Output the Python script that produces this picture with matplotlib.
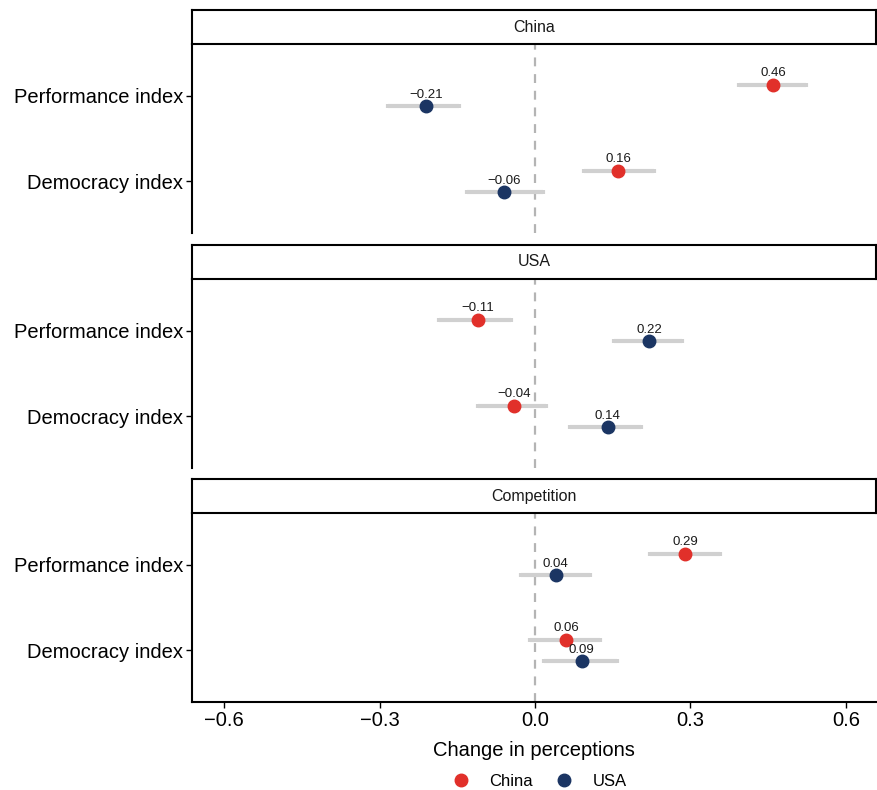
import matplotlib
matplotlib.use("Agg")
import matplotlib.pyplot as plt
from matplotlib.lines import Line2D

plt.rcParams['font.family'] = ['Liberation Sans', 'DejaVu Sans']

panels = ["China", "USA", "Competition"]
outcomes = ["Performance index", "Democracy index"]
groups = ["China", "USA"]
colors = {"China": "#E1302A", "USA": "#1B3563"}

# estimates[panel][group] = [Performance, Democracy]
estimates = {
    "China": {"China": [0.46, 0.16], "USA": [-0.21, -0.06]},
    "USA": {"China": [-0.11, -0.04], "USA": [0.22, 0.14]},
    "Competition": {"China": [0.29, 0.06], "USA": [0.04, 0.09]},
}
lower = {
    "China": {"China": [0.394, 0.095], "USA": [-0.284, -0.131]},
    "USA": {"China": [-0.185, -0.110], "USA": [0.153, 0.068]},
    "Competition": {"China": [0.222, -0.010], "USA": [-0.027, 0.017]},
}
upper = {
    "China": {"China": [0.523, 0.230], "USA": [-0.147, 0.015]},
    "USA": {"China": [-0.046, 0.021], "USA": [0.284, 0.205]},
    "Competition": {"China": [0.357, 0.125], "USA": [0.106, 0.158]},
}
xticks = [-0.6, -0.3, 0.0, 0.3, 0.6]

W, H = 878, 790
fig = plt.figure(figsize=(W / 100, H / 100), dpi=100)

left_px, right_px = 192, 876
panel_tops = [44, 279, 513]
panel_h = 189
strip_h = 34
ypos = {"Performance index": 2, "Democracy index": 1}
dodge = {"China": 0.125, "USA": -0.125}

def fx(px):
    return px / W

def fy(py):
    return 1 - py / H

for i, panel in enumerate(panels):
    top = panel_tops[i]
    ax = fig.add_axes([fx(left_px), fy(top + panel_h), fx(right_px - left_px), panel_h / H])
    ax.set_xlim(-0.662, 0.658)
    ax.set_ylim(0.4, 2.6)
    ax.axvline(0, color="#B4B4B4", lw=1.6, ls=(0, (4, 3.5)), zorder=1)
    for g in groups:
        for j, o in enumerate(outcomes):
            y = ypos[o] + dodge[g]
            est = estimates[panel][g][j]
            lo = lower[panel][g][j]
            hi = upper[panel][g][j]
            eb = ax.errorbar([est], [y], xerr=[[est - lo], [hi - est]], fmt='none',
                             ecolor="#D0D0D0", elinewidth=3, capsize=1.5, capthick=3, zorder=2)
            for cl in eb[1]:
                cl.set_color("#A0A0A0")
                cl.set_zorder(2.5)
            ax.plot([est], [y], 'o', color=colors[g], ms=9, zorder=3, mec=colors[g])
            ax.text(est, y + 0.065, f"{est:.2f}".replace("-", "\u2212"), ha='center', va='bottom',
                    fontsize=9.5, color="#1A1A1A", zorder=4)
    ax.set_yticks([ypos[o] for o in outcomes])
    ax.set_yticklabels(outcomes, fontsize=14.5, color="black")
    ax.tick_params(axis='y', length=4.5, width=1.0, color="black", pad=2)
    for s in ["top", "right"]:
        ax.spines[s].set_visible(False)
    ax.spines["left"].set_linewidth(1.5)
    if i < 2:
        ax.spines["bottom"].set_visible(False)
        ax.set_xticks([])
    else:
        ax.spines["bottom"].set_linewidth(1.5)
        ax.set_xticks(xticks)
        ax.set_xticklabels([f"{t:.1f}".replace("-", "\u2212") for t in xticks], fontsize=14.5)
        ax.tick_params(axis='x', length=4.5, width=1.0, color="black", pad=2)
        ax.set_xlabel("Change in perceptions", fontsize=14.5, labelpad=8)
    ax.patch.set_visible(False)

    sax = fig.add_axes([fx(left_px), fy(top), fx(right_px - left_px), strip_h / H])
    sax.set_xticks([])
    sax.set_yticks([])
    for s in sax.spines.values():
        s.set_linewidth(1.5)
        s.set_color("black")
    sax.text(0.5, 0.5, panel, ha='center', va='center', fontsize=11.5, transform=sax.transAxes,
             color="#1A1A1A")

handles = [Line2D([0], [0], marker='o', ls='none', color=colors[g], ms=9) for g in groups]
fig.legend(handles, groups, loc='center', bbox_to_anchor=(0.61, fy(781)), ncol=2, frameon=False,
           fontsize=12, handletextpad=0.7, columnspacing=0.85)

fig.savefig("out.png", dpi=100)
